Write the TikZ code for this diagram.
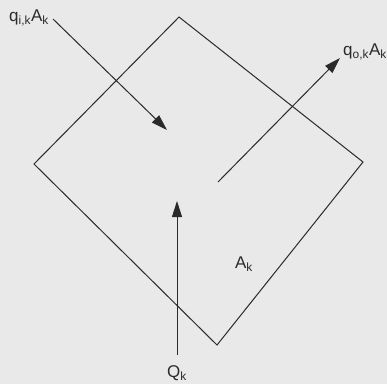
\documentclass[tikz,border=0pt]{standalone}
\usepackage{fontspec}
\setmainfont{Liberation Sans}
\usetikzlibrary{arrows.meta,positioning}
\definecolor{paper}{HTML}{E9E9E9}
\definecolor{ink}{HTML}{2A2A2A}

\begin{document}
\begin{tikzpicture}[x=1pt,y=-1pt,
every node/.style={inner sep=1pt,text=ink,font=\fontsize{17}{19}\selectfont},
edge/.style={draw=ink,line width=1pt},
flow/.style={edge,-{Triangle[length=16pt,width=10pt]}}]
\fill[paper] (0,0) rectangle (387,384);
\useasboundingbox (0,0) rectangle (387,384);
% cell outline
\coordinate (top) at (179,17);
\coordinate (right) at (363,162);
\coordinate (bottom) at (217,345);
\coordinate (left) at (34,164);
\draw[edge] (top) -- (right) -- (bottom) -- (left) -- cycle;
% labels
\node (qin) at (29,18) {q\textsubscript{i,k}A\textsubscript{k}};
\node (qout) at (365,52) {q\textsubscript{o,k}A\textsubscript{k}};
\node (Qk) at (177,373) {Q\textsubscript{k}};
\node (Ak) at (244,264) {A\textsubscript{k}};
% flows
\coordinate (inS) at (53,19);
\coordinate (inE) at (167,130);
\coordinate (outS) at (218,182);
\coordinate (outE) at (340,58);
\coordinate (QS) at (177,355);
\coordinate (QE) at (177,201);
\draw[flow] (inS) -- (inE);
\draw[flow] (outS) -- (outE);
\draw[flow] (QS) -- (QE);
\end{tikzpicture}
\end{document}
